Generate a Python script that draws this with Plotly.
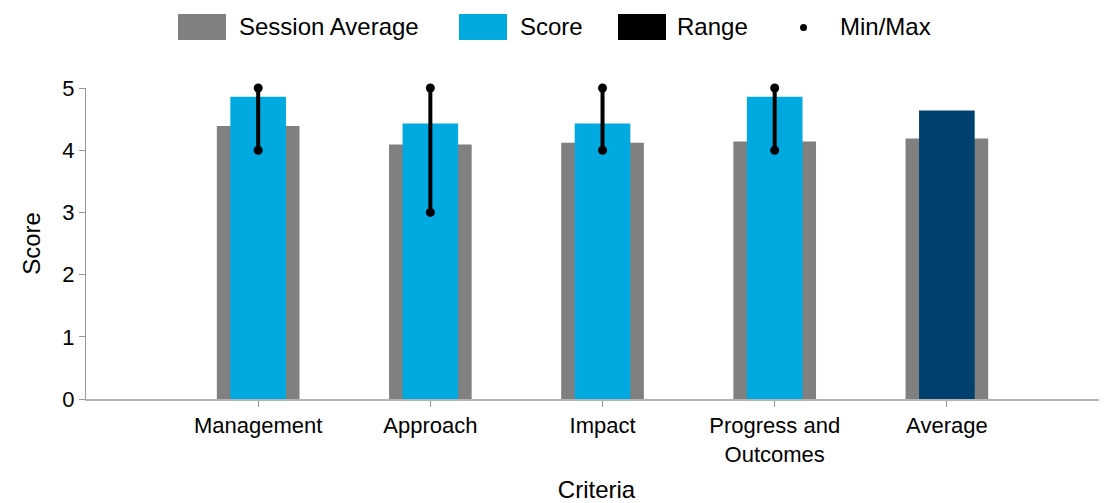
import plotly.graph_objects as go

# data
criteria = ["Management", "Approach", "Impact", "Progress and<br>Outcomes", "Average"]
session_average = [4.39, 4.09, 4.12, 4.14, 4.19]
score = [4.86, 4.43, 4.43, 4.86, 4.64]
range_min = [4, 3, 4, 4]
range_max = [5, 5, 5, 5]

# the page keeps an 8px body margin, so the figure is sized to fit inside it
PAGE_OFF = 8
W, H = 1107 - PAGE_OFF, 503 - PAGE_OFF
M_L, M_R, M_T, M_B = 78, 0, 80, 104
PW = W - M_L - M_R
PH = H - M_T - M_B

GRAY = "#808080"
BLUE = "#00A9E0"
NAVY = "#00406E"
FONT = "Liberation Sans, Arial, sans-serif"

pos = list(range(len(criteria)))
score_colors = [BLUE] * (len(criteria) - 1) + [NAVY]

fig = go.Figure()
fig.add_trace(go.Bar(x=pos, y=session_average, width=0.48, marker_color=GRAY,
                     marker_line_width=0, name="Session Average", showlegend=False))
fig.add_trace(go.Bar(x=pos, y=score, width=0.323, marker_color=score_colors,
                     marker_line_width=0, name="Score", showlegend=False))

# range lines with min/max dots
rx, ry = [], []
for i, (lo, hi) in enumerate(zip(range_min, range_max)):
    rx += [i, i, None]
    ry += [lo, hi, None]
fig.add_trace(go.Scatter(x=rx, y=ry, mode="lines", line=dict(color="black", width=4),
                         showlegend=False, cliponaxis=False))
fig.add_trace(go.Scatter(x=pos[:len(range_min)] * 2, y=range_min + range_max, mode="markers",
                         marker=dict(color="black", size=9), showlegend=False, cliponaxis=False))


# page pixel -> paper coords
def px_x(v):
    return (v - PAGE_OFF - M_L) / PW


def px_y(v):
    return (H - M_B - (v - PAGE_OFF)) / PH


# custom legend
legend_items = [("Session Average", GRAY, 178, 237), ("Score", BLUE, 459, 518),
                ("Range", "black", 618, 675)]
for label, col, sx, tx in legend_items:
    fig.add_shape(type="rect", xref="paper", yref="paper",
                  x0=px_x(sx), x1=px_x(sx + 48), y0=px_y(40), y1=px_y(14),
                  fillcolor=col, line_width=0)
    fig.add_annotation(xref="paper", yref="paper", x=px_x(tx), y=px_y(27), text=label,
                       showarrow=False, xanchor="left", yanchor="middle",
                       font=dict(size=24, color="black", family=FONT))
fig.add_shape(type="circle", xref="paper", yref="paper",
              x0=px_x(800), x1=px_x(807), y0=px_y(31), y1=px_y(24),
              fillcolor="black", line_width=0)
fig.add_annotation(xref="paper", yref="paper", x=px_x(838), y=px_y(27), text="Min/Max",
                   showarrow=False, xanchor="left", yanchor="middle",
                   font=dict(size=24, color="black", family=FONT))

fig.update_layout(
    width=W, height=H,
    margin=dict(l=M_L, r=M_R, t=M_T, b=M_B),
    barmode="overlay",
    plot_bgcolor="white", paper_bgcolor="white",
    font=dict(family=FONT, color="black", size=22),
    showlegend=False,
)
fig.update_xaxes(
    range=[-1, 4.93], tickvals=pos, ticktext=criteria,
    showgrid=False, zeroline=False, automargin=False,
    showline=True, linecolor="#b3b3b3", linewidth=2,
    ticks="outside", ticklen=6, tickcolor="#999999",
    tickfont=dict(size=22),
    title=dict(text="Criteria", font=dict(size=24), standoff=26),
)
fig.update_yaxes(
    range=[0, 5], tickvals=[0, 1, 2, 3, 4, 5],
    showgrid=False, zeroline=False, automargin=False,
    showline=True, linecolor="#999999", linewidth=1,
    ticks="outside", ticklen=6, tickcolor="#999999",
    tickfont=dict(size=22),
    title=dict(text="Score", font=dict(size=24), standoff=14),
)

fig.write_html("out.html")
